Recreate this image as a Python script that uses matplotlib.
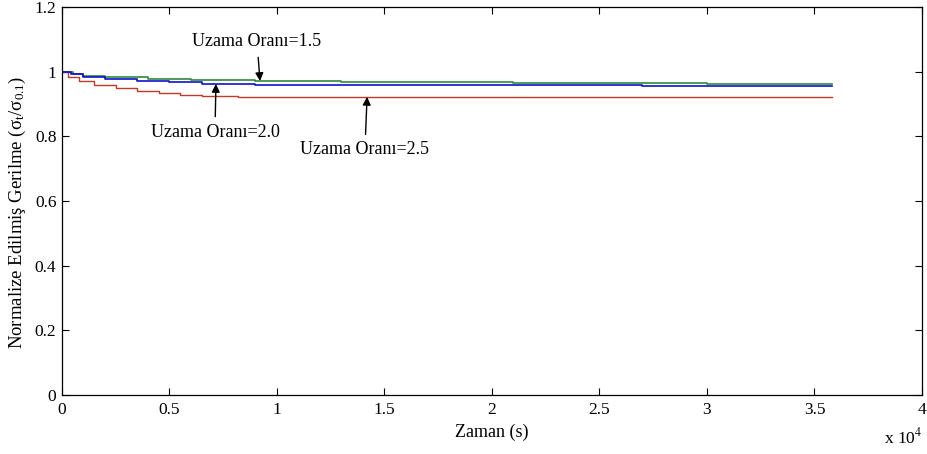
import matplotlib
matplotlib.use("Agg")
import matplotlib.pyplot as plt
from matplotlib.ticker import FuncFormatter

plt.rcParams['font.family'] = ['Liberation Serif', 'DejaVu Serif']
plt.rcParams['mathtext.fontset'] = 'stix'

# Uzama Oranı = 2.5 (red)
t_25 = [0, 300, 800, 1500, 2500, 3500, 4500, 5500, 6500, 8200, 35800]
v_25 = [1.0, 0.985, 0.970, 0.958, 0.948, 0.940, 0.933, 0.928, 0.925, 0.921, 0.921]

# Uzama Oranı = 1.5 (green)
t_15 = [0, 500, 1000, 2000, 4000, 6000, 9000, 13000, 21000, 30000, 35800]
v_15 = [1.0, 0.993, 0.988, 0.982, 0.976, 0.974, 0.971, 0.968, 0.965, 0.962, 0.962]

# Uzama Oranı = 2.0 (blue)
t_20 = [0, 400, 1000, 2000, 3500, 5000, 6500, 9000, 20000, 27000, 35800]
v_20 = [1.0, 0.993, 0.985, 0.978, 0.972, 0.968, 0.963, 0.960, 0.959, 0.956, 0.955]

xticks = [0, 5000, 10000, 15000, 20000, 25000, 30000, 35000, 40000]
yticks = [0, 0.2, 0.4, 0.6, 0.8, 1.0, 1.2]

fig = plt.figure(figsize=(9.28, 4.54), dpi=100)
ax = fig.add_axes([0.0668, 0.130, 0.9267, 0.8546])

ax.plot(t_25, v_25, color='#c0392b', lw=1.0, drawstyle='steps-post')
ax.plot(t_15, v_15, color='#2e8b3a', lw=1.2, drawstyle='steps-post')
ax.plot(t_20, v_20, color='#1010d0', lw=1.2, drawstyle='steps-post')

ax.set_xlim(0, 40000)
ax.set_ylim(0, 1.2)
ax.set_xticks(xticks)
ax.set_yticks(yticks)
ax.xaxis.set_major_formatter(FuncFormatter(lambda v, p: '%g' % (v / 1e4)))
ax.yaxis.set_major_formatter(FuncFormatter(lambda v, p: '%g' % v))
ax.tick_params(direction='in', top=True, right=True, length=5, labelsize=12.5)
ax.tick_params(axis='x', pad=5)
ax.tick_params(axis='y', pad=4)
for s in ax.spines.values():
    s.set_linewidth(0.9)

ax.set_xlabel('Zaman (s)', fontsize=13, labelpad=4)
ax.set_ylabel(r'Normalize Edilmiş Gerilme ($\mathregular{\sigma_t/\sigma_{0.1}}$)',
              fontsize=13.5)
ax.yaxis.set_label_coords(-0.040, 0.47)

fig.text(0.953, 0.037, r'x 10$^4$', fontsize=12.5, ha='left', va='center')

arrow = dict(arrowstyle='-|>', color='black', lw=1.0, mutation_scale=12)
ax.annotate('Uzama Oranı=1.5', xy=(9210, 0.971), xytext=(9070, 1.092),
            ha='center', va='center', fontsize=13,
            arrowprops=dict(arrow, shrinkA=3, shrinkB=0))
ax.annotate('Uzama Oranı=2.0', xy=(7160, 0.962), xytext=(7116, 0.813),
            ha='center', va='center', fontsize=13,
            arrowprops=dict(arrow, shrinkA=3, shrinkB=0))
ax.annotate('Uzama Oranı=2.5', xy=(14190, 0.922), xytext=(14090, 0.758),
            ha='center', va='center', fontsize=13,
            arrowprops=dict(arrow, shrinkA=3, shrinkB=0))

fig.savefig('out.png', dpi=100)
